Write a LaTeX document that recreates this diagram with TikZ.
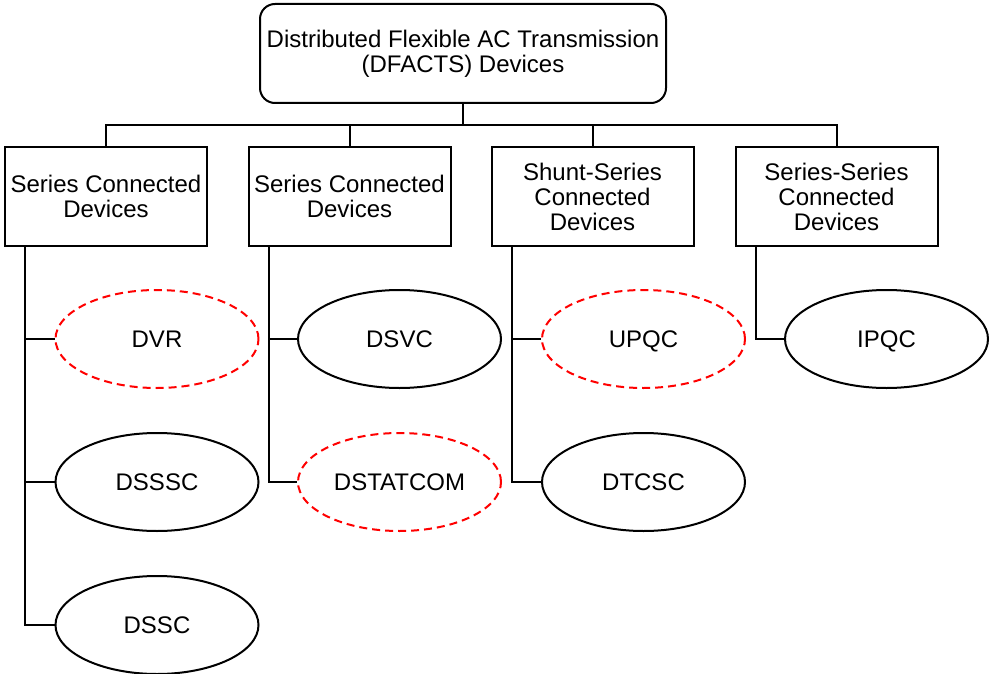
\documentclass[tikz,border=0pt]{standalone}
\usepackage{fontspec}
\setmainfont{Liberation Sans}
\usetikzlibrary{shapes.geometric}
\begin{document}
\begin{tikzpicture}[x=1pt,y=-1pt,
  every node/.style={font=\fontsize{24}{25}\selectfont, align=center},
  head/.style={draw, line width=2pt, rounded corners=15pt, minimum width=406pt, minimum height=99pt, inner sep=0pt},
  group/.style={draw, line width=2pt, minimum width=202pt, minimum height=99pt, inner sep=0pt},
  dev/.style={ellipse, draw, line width=2pt, minimum width=203pt, minimum height=98pt, inner sep=0pt, text height=17.2pt, text depth=0pt},
  newdev/.style={dev, draw=red, dash pattern=on 8pt off 5pt},
  wire/.style={line width=2pt}]
  \useasboundingbox (0,0) rectangle (990,674);

  % root and category boxes
  \node[head] (top) at (463,53.5) {Distributed Flexible AC Transmission\\(DFACTS) Devices};
  \node[group] (b1) at (106,196.5) {Series Connected\\Devices};
  \node[group] (b2) at (349.5,196.5) {Series Connected\\Devices};
  \node[group] (b3) at (592.5,196.5) {Shunt-Series\\Connected\\Devices};
  \node[group] (b4) at (836.5,196.5) {Series-Series\\Connected\\Devices};

  % device ellipses
  \node[newdev] (dvr) at (157,339) {DVR};
  \node[dev] (dsssc) at (157,482) {DSSSC};
  \node[dev] (dssc) at (157,625) {DSSC};
  \node[dev] (dsvc) at (399.5,339) {DSVC};
  \node[newdev] (dstatcom) at (399.5,482) {DSTATCOM};
  \node[newdev] (upqc) at (643.5,339) {UPQC};
  \node[dev] (dtcsc) at (643.5,482) {DTCSC};
  \node[dev] (ipqc) at (886.5,339) {IPQC};

  % bus from the root to each category
  \coordinate (bus) at (463,125);
  \foreach \b in {b1,b2,b3,b4}
    \draw[wire] (top.south) -- (bus) -| (\b.north);

  % category-to-device links
  \foreach \b/\d in {b1/dvr,b1/dsssc,b1/dssc,b2/dsvc,b2/dstatcom,b3/upqc,b3/dtcsc,b4/ipqc}
    \draw[wire] ([xshift=21pt]\b.south west) |- (\d.west);
\end{tikzpicture}
\end{document}
